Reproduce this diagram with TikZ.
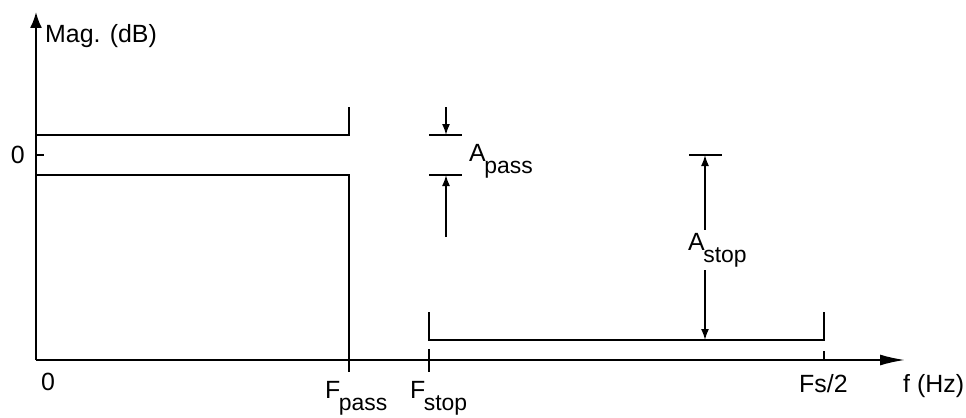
\documentclass[tikz,border=0pt]{standalone}
\usepackage{fontspec}
\setmainfont{Liberation Sans}
\usetikzlibrary{arrows.meta}
\tikzset{
  plotline/.style={line width=1.9bp},
  dimarrow/.style={line width=1.7bp, -{Latex[length=11bp,width=8bp]}},
  lbl/.style={font=\fontsize{25}{29}\selectfont, inner sep=0pt},
  gaplbl/.style={lbl, fill=white, inner ysep=3bp}
}
\newcommand{\lowsub}[1]{\kern-1.5bp\raisebox{-12bp}{\fontsize{23}{27}\selectfont #1}}

\begin{document}
\begin{tikzpicture}[x=1bp, y=1bp]
  \useasboundingbox (0,0) rectangle (966,417);
  % axes
  \coordinate (o) at (36,57);
  \coordinate (ytop) at (36,405);
  \coordinate (xend) at (905,57);
  \draw[plotline, -{Latex[length=16bp,width=12bp]}] (o) -- (ytop);
  \draw[plotline, -{Latex[length=25bp,width=11bp]}] (o) -- (xend);
  \draw[plotline] (36,262) -- (44,262);
  % passband limits
  \coordinate (pup) at (36,282);
  \coordinate (plo) at (36,242);
  \draw[plotline] (pup) -- (349,282) -- (349,310);
  \draw[plotline] (plo) -- (349,242) -- (349,45);
  % stopband limit
  \coordinate (sl) at (429,77);
  \coordinate (sr) at (824,77);
  \draw[plotline] (429,105) -- (sl) -- (sr) -- (824,105);
  \draw[plotline] (429,68) -- (429,45);
  \draw[plotline] (824,57) -- (824,66);
  % Apass
  \coordinate (aptop) at (446,282);
  \coordinate (apbot) at (446,242);
  \draw[plotline] (429,282) -- (462,282);
  \draw[plotline] (429,242) -- (462,242);
  \draw[dimarrow] (446,310) -- (aptop);
  \draw[dimarrow] (446,180) -- (apbot);
  % Astop
  \coordinate (astop) at (705,262);
  \coordinate (asbot) at (705,77);
  \draw[plotline] (689,262) -- (722,262);
  \draw[dimarrow, {Latex[length=11bp,width=8bp]}-{Latex[length=11bp,width=8bp]}] (astop) -- (asbot);
  % labels
  \node[lbl, anchor=base west] (mag) at (45,375) {Mag. (dB)};
  \node[lbl, anchor=base east] (zeroy) at (25,254) {0};
  \node[lbl, anchor=base west] (zerox) at (41,27) {0};
  \node[lbl, anchor=base west] (fpass) at (325,19) {F\lowsub{pass}};
  \node[lbl, anchor=base west] (fstop) at (410,19) {F\lowsub{stop}};
  \node[lbl, anchor=base west] (fhalf) at (799,25) {Fs/2};
  \node[lbl, anchor=base west] (fhz) at (903,25) {f (Hz)};
  \node[lbl, anchor=base west] (apass) at (469,256) {A\lowsub{pass}};
  \node[gaplbl, anchor=base west] (astoplbl) at (688,167) {A\lowsub{stop}};
\end{tikzpicture}
\end{document}
